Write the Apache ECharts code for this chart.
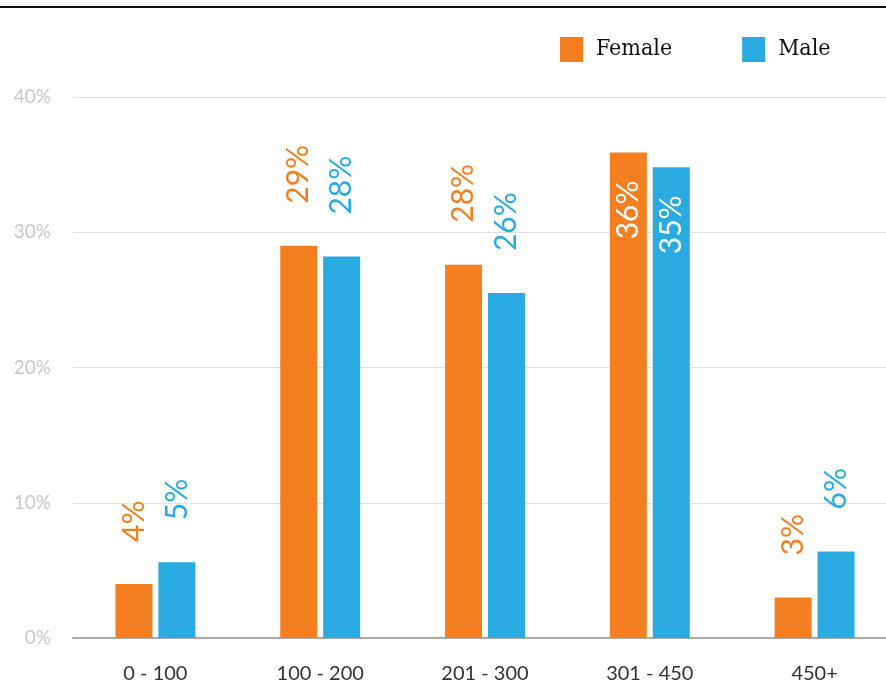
<!DOCTYPE html>
<html>
<head>
<meta charset="utf-8">
<script src="https://cdn.jsdelivr.net/npm/echarts@6/dist/echarts.min.js"></script>
<style>
  html, body { margin: 0; padding: 0; background: #fff; overflow: hidden; }
  #chart { width: 897px; height: 688px; }
</style>
</head>
<body>
<div id="chart"></div>
<script>
const categories = ['0 - 100', '100 - 200', '201 - 300', '301 - 450', '450+']
const femaleValues = [4.0, 29.0, 27.6, 35.9, 3.0]
const maleValues = [5.6, 28.2, 25.5, 34.8, 6.4]
const femaleLabels = ['4%', '29%', '28%', '36%', '3%']
const maleLabels = ['5%', '28%', '26%', '35%', '6%']
// labels drawn inside the bar for these categories
const insideCategories = ['301 - 450']

const ORANGE = '#F47F20'
const BLUE = '#29ABE2'

function buildData(values, labels, color) {
  return values.map((v, i) => {
    const inside = insideCategories.includes(categories[i])
    return {
      value: v,
      label: inside
        ? { position: 'insideTop', align: 'right', distance: 28, color: '#fff', formatter: labels[i] }
        : { position: 'top', align: 'left', distance: 42, color: color, formatter: labels[i] }
    }
  })
}

const chart = echarts.init(document.getElementById('chart'))

const labelBase = {
  show: true,
  rotate: 90,
  verticalAlign: 'middle',
  fontFamily: 'Lato',
  fontSize: 30
}

chart.setOption({
  backgroundColor: '#fff',
  animation: false,
  graphic: [
    {
      type: 'line',
      shape: { x1: 0, y1: 7, x2: 897, y2: 7 },
      style: { stroke: '#111', lineWidth: 2 }
    }
  ],
  legend: {
    data: ['Female', 'Male'],
    top: 32,
    left: 555,
    itemWidth: 23,
    itemHeight: 25,
    itemGap: 70,
    icon: 'rect',
    textStyle: {
      color: '#111',
      fontSize: 23,
      fontFamily: 'DejaVu Serif Condensed',
      padding: [0, 0, 0, 8]
    }
  },
  grid: {
    left: 73,
    right: 0,
    top: 97,
    bottom: 50
  },
  xAxis: {
    type: 'category',
    data: categories,
    axisLine: { lineStyle: { color: '#aaa', width: 2 } },
    axisTick: { show: false },
    axisLabel: {
      color: '#333',
      fontSize: 20,
      fontFamily: 'Lato',
      margin: 26
    }
  },
  yAxis: {
    type: 'value',
    min: 0,
    max: 40,
    interval: 10,
    axisLine: { show: false },
    axisTick: { show: false },
    axisLabel: {
      color: '#c8c8c8',
      fontSize: 19,
      fontFamily: 'Lato',
      margin: 22,
      formatter: '{value}%'
    },
    splitLine: { lineStyle: { color: '#e2e2e2', width: 1 } }
  },
  series: [
    {
      name: 'Female',
      type: 'bar',
      barWidth: 37,
      barGap: '16%',
      itemStyle: { color: ORANGE },
      label: labelBase,
      data: buildData(femaleValues, femaleLabels, ORANGE)
    },
    {
      name: 'Male',
      type: 'bar',
      barWidth: 37,
      itemStyle: { color: BLUE },
      label: labelBase,
      data: buildData(maleValues, maleLabels, BLUE)
    }
  ]
})
</script>
</body>
</html>
